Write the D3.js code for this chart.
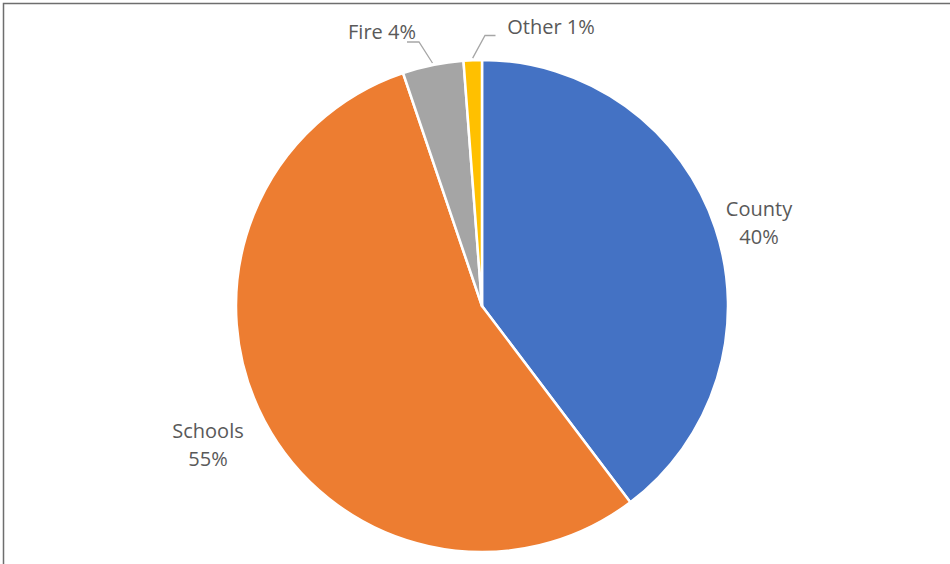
<!DOCTYPE html>
<html><head><meta charset="utf-8">
<script src="https://cdn.jsdelivr.net/npm/d3@7"></script>
<style>html,body{margin:0;padding:0;background:#fff;}svg{display:block;}</style>
</head><body>
<svg id="chart" width="950" height="564"></svg>
<script>
const categories = ["County", "Schools", "Fire", "Other"];
const values = [39.7, 55.1, 4.0, 1.2];
const percentLabels = ["40%", "55%", "4%", "1%"];
const colors = ["#4472C4", "#ED7D31", "#A5A5A5", "#FFC000"];

const W = 950, H = 564;
const cx = 482, cy = 306, R = 246;
const svg = d3.select("#chart");

svg.append("rect").attr("x", 3.5).attr("y", 3.5).attr("width", 1000).attr("height", 1000)
  .attr("fill", "#fff").attr("stroke", "#6e6e6e").attr("stroke-width", 1.5);

const data = categories.map((c, i) => ({cat: c, value: values[i], pct: percentLabels[i], color: colors[i]}));
const pie = d3.pie().value(d => d.value).sort(null);
const arcs = pie(data);
const arc = d3.arc().innerRadius(0).outerRadius(R);

const g = svg.append("g").attr("transform", `translate(${cx},${cy})`);
g.selectAll("path").data(arcs).join("path")
  .attr("d", arc).attr("fill", d => d.data.color)
  .attr("stroke", "#fff").attr("stroke-width", 2.5).attr("stroke-linejoin", "round");

const font = "'Open Sans', sans-serif";
const fs = 20;
const txtColor = "#595959";

// label placement (offsets from centre, in px)
const twoLine = {
  County: {dx: 277, dy: -90},
  Schools: {dx: -274, dy: 132}
};
Object.entries(twoLine).forEach(([k, p]) => {
  const d = data.find(e => e.cat === k);
  const t = g.append("text").attr("text-anchor", "middle")
    .attr("font-family", font).attr("font-size", fs).attr("fill", txtColor);
  t.append("tspan").attr("x", p.dx).attr("y", p.dy).text(d.cat);
  t.append("tspan").attr("x", p.dx).attr("y", p.dy + 28).text(d.pct);
});

// outside labels with leader lines
const outside = {
  Fire: {tx: -100, ty: -267, elbow: [-63, -264], end: [-75, -264]},
  Other: {tx: 69, ty: -272, elbow: [3, -270.5], end: [13.5, -270.5]}
};
Object.entries(outside).forEach(([k, p]) => {
  const a = arcs.find(e => e.data.cat === k);
  const mid = (a.startAngle + a.endAngle) / 2;
  const sx = Math.sin(mid) * (R + 2), sy = -Math.cos(mid) * (R + 2);
  g.append("polyline")
    .attr("points", [[sx, sy], p.elbow, p.end].map(q => q.join(",")).join(" "))
    .attr("fill", "none").attr("stroke", "#a6a6a6").attr("stroke-width", 1.3);
  g.append("text").attr("x", p.tx).attr("y", p.ty).attr("text-anchor", "middle")
    .attr("font-family", font).attr("font-size", fs).attr("fill", txtColor)
    .text(`${a.data.cat} ${a.data.pct}`);
});
</script>
</body></html>
